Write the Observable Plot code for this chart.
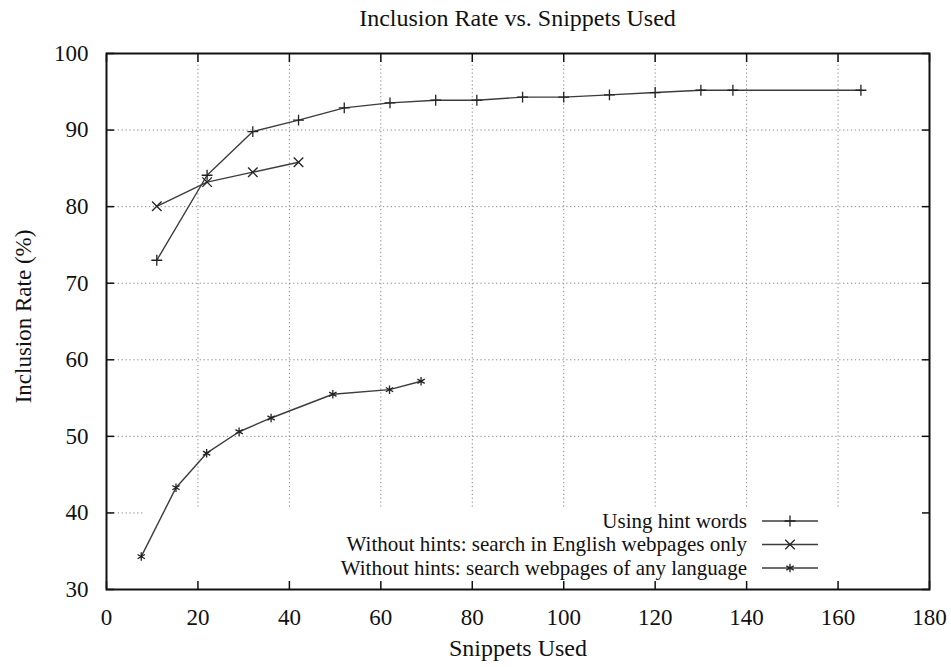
<!DOCTYPE html>
<html><head><meta charset="utf-8">
<script src="https://cdn.jsdelivr.net/npm/d3@7"></script>
<script src="https://cdn.jsdelivr.net/npm/@observablehq/plot@0.6"></script>
<style>
body{margin:0;background:#fff;}
#title{height:36px;line-height:36px;font-family:"Liberation Serif","DejaVu Serif",serif;font-size:24px;text-align:center;padding-left:106px;padding-right:22px;color:#111;}
</style></head><body>
<div id="title">Inclusion Rate vs. Snippets Used</div>
<div id="chart"></div>
<script>
const seriesNames = [
  "Using hint words",
  "Without hints: search in English webpages only",
  "Without hints: search webpages of any language"
];
const hintX = [11, 22, 32, 42, 52, 62, 72, 81, 91, 100, 110, 120, 130, 137, 165];
const hintY = [73.0, 84.1, 89.8, 91.3, 92.9, 93.55, 93.9, 93.9, 94.3, 94.3, 94.6, 94.9, 95.2, 95.2, 95.2];
const englishX = [11, 22, 32, 42];
const englishY = [80.05, 83.2, 84.5, 85.8];
const anyX = [7.6, 15.2, 21.9, 29, 36, 49.5, 61.9, 68.8];
const anyY = [34.3, 43.3, 47.8, 50.6, 52.4, 55.5, 56.1, 57.2];
const xTicks = [0, 20, 40, 60, 80, 100, 120, 140, 160, 180];
const yTicks = [30, 40, 50, 60, 70, 80, 90, 100];
const symbols = ["plus", "times", "asterisk"];
const symbolR = [3.6, 4.4, 4.0];

const serif = '"Liberation Serif", "DejaVu Serif", serif';
const toRows = (xs, ys, s) => xs.map((x, i) => ({series: s, x, y: ys[i]}));
const hintRows = toRows(hintX, hintY, seriesNames[0]);
const englishRows = toRows(englishX, englishY, seriesNames[1]);
const anyRows = toRows(anyX, anyY, seriesNames[2]);
const allSeries = [hintRows, englishRows, anyRows];

const lineColor = "#3c3c3c";
const gridStyle = {stroke: "#8a8a8a", strokeOpacity: 1, strokeWidth: 1, strokeDasharray: "1.3,2.6"};

const chart = Plot.plot({
  width: 951, height: 631,
  marginTop: 17, marginBottom: 78, marginLeft: 106, marginRight: 22,
  style: {fontFamily: serif, fontSize: "23px", color: "#111", background: "#fff"},
  x: {domain: [0, 180]},
  y: {domain: [30, 100]},
  marks: [
    Plot.gridX(xTicks.slice(1, -1), gridStyle),
    Plot.gridY(yTicks.slice(1, -1), gridStyle),
    Plot.axisX(xTicks, {tickSize: 0, tickPadding: 19, label: null, tickFormat: d => d, fontSize: 23}),
    Plot.axisY(yTicks, {tickSize: 0, tickPadding: 18, label: null, tickFormat: d => d, fontSize: 23}),
    Plot.axisX(xTicks, {anchor: "bottom", tickSize: -8, fill: "none", label: null, stroke: "#111", strokeWidth: 1.5}),
    Plot.axisX(xTicks, {anchor: "top", tickSize: -8, fill: "none", label: null, stroke: "#111", strokeWidth: 1.5}),
    Plot.axisY(yTicks, {anchor: "left", tickSize: -8, fill: "none", label: null, stroke: "#111", strokeWidth: 1.5}),
    Plot.axisY(yTicks, {anchor: "right", tickSize: -8, fill: "none", label: null, stroke: "#111", strokeWidth: 1.5}),
    ...allSeries.map(rows => Plot.line(rows, {x: "x", y: "y", stroke: lineColor, strokeWidth: 1.4})),
    ...allSeries.map((rows, i) => Plot.dot(rows, {x: "x", y: "y", symbol: symbols[i], r: symbolR[i], stroke: "#222", fill: "none", strokeWidth: 1.3})),
    Plot.text(["Snippets Used"], {frameAnchor: "bottom", textAnchor: "middle", dy: 66, fontSize: 24}),
    Plot.text(["Inclusion Rate (%)"], {frameAnchor: "left", textAnchor: "middle", dx: -83, dy: -5, rotate: -90, fontSize: 23}),
    Plot.frame({stroke: "#111", strokeWidth: 2})
  ]
});

document.getElementById("chart").appendChild(chart);

// legend box (opaque, like gnuplot's key) — layout in pixels
const svg = d3.select(chart);
const boxLeft = 143, boxTop = 471, boxRight = 951 - 22, boxBottom = 631 - 78;
const gridY = svg.select('g[aria-label="y-grid"]').node();
if (gridY) {
  const r = document.createElementNS("http://www.w3.org/2000/svg", "rect");
  r.setAttribute("x", boxLeft); r.setAttribute("y", boxTop);
  r.setAttribute("width", boxRight - boxLeft); r.setAttribute("height", boxBottom - boxTop);
  r.setAttribute("fill", "#fff");
  gridY.parentNode.insertBefore(r, gridY.nextSibling);
}
const lg = svg.append("g").attr("font-family", serif).attr("font-size", 21).attr("fill", "#111");
const textEnd = 747, sampleX1 = 762, sampleX2 = 818, rowY0 = 485, rowStep = 23.5;
const sym = d3.scaleOrdinal(symbols, [d3.symbolPlus, d3.symbolTimes, d3.symbolAsterisk]);
seriesNames.forEach((name, i) => {
  const y = rowY0 + i * rowStep;
  lg.append("text").attr("x", textEnd).attr("y", y).attr("dy", "0.32em").attr("text-anchor", "end").text(name);
  lg.append("line").attr("x1", sampleX1).attr("x2", sampleX2).attr("y1", y).attr("y2", y).attr("stroke", lineColor).attr("stroke-width", 1.4);
  lg.append("path").attr("transform", `translate(${(sampleX1 + sampleX2) / 2},${y})`)
    .attr("d", d3.symbol(sym(symbols[i]), Math.PI * symbolR[i] * symbolR[i])())
    .attr("fill", "none").attr("stroke", "#222").attr("stroke-width", 1.3);
});
</script>
</body></html>
